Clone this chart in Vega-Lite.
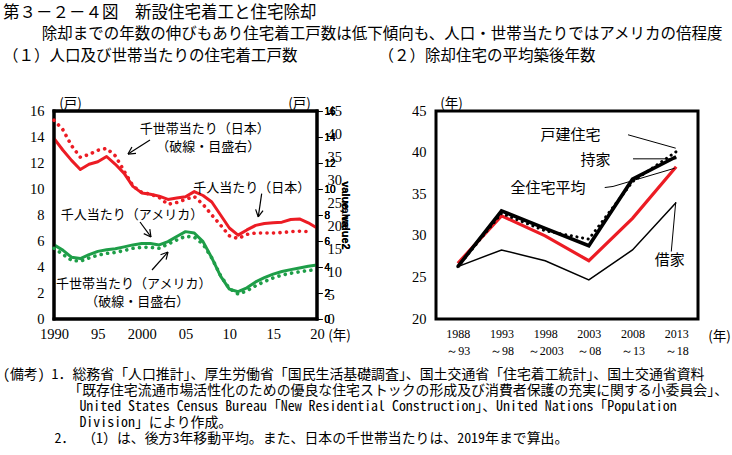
{
  "$schema": "https://vega.github.io/schema/vega-lite/v6.json",
  "background": "white",
  "padding": {"left": 3, "top": 4, "right": 2, "bottom": 2},
  "config": {
    "view": {"stroke": "black", "strokeWidth": 3},
    "axis": {"grid": false, "domain": false, "labelColor": "black", "titleColor": "black", "tickColor": "black"}
  },
  "title": {
    "text": "第３－２－４図　新設住宅着工と住宅除却",
    "subtitle": ["\u200b　　\u2002除却までの年数の伸びもあり住宅着工戸数は低下傾向も、人口・世帯当たりではアメリカの倍程度", "（１）人口及び世帯当たりの住宅着工戸数　　　　　 （２）除却住宅の平均築後年数"],
    "anchor": "start",
    "font": "Noto Sans CJK JP",
    "subtitleFont": "Noto Sans CJK JP",
    "fontSize": 16.5,
    "subtitleFontSize": 15.5,
    "subtitleLineHeight": 22,
    "subtitlePadding": 6,
    "fontWeight": "normal",
    "subtitleFontWeight": "normal",
    "color": "black",
    "subtitleColor": "black",
    "offset": 30
  },
  "datasets": {
    "housing": [
      {"year": 1990, "country": "日本", "basis": "人口", "value": 13.9},
      {"year": 1991, "country": "日本", "basis": "人口", "value": 13.0},
      {"year": 1992, "country": "日本", "basis": "人口", "value": 12.2},
      {"year": 1993, "country": "日本", "basis": "人口", "value": 11.5},
      {"year": 1994, "country": "日本", "basis": "人口", "value": 11.9},
      {"year": 1995, "country": "日本", "basis": "人口", "value": 12.1},
      {"year": 1996, "country": "日本", "basis": "人口", "value": 12.5},
      {"year": 1997, "country": "日本", "basis": "人口", "value": 11.9},
      {"year": 1998, "country": "日本", "basis": "人口", "value": 11.2},
      {"year": 1999, "country": "日本", "basis": "人口", "value": 10.2},
      {"year": 2000, "country": "日本", "basis": "人口", "value": 9.7},
      {"year": 2001, "country": "日本", "basis": "人口", "value": 9.6},
      {"year": 2002, "country": "日本", "basis": "人口", "value": 9.45},
      {"year": 2003, "country": "日本", "basis": "人口", "value": 9.2},
      {"year": 2004, "country": "日本", "basis": "人口", "value": 9.3},
      {"year": 2005, "country": "日本", "basis": "人口", "value": 9.4},
      {"year": 2006, "country": "日本", "basis": "人口", "value": 9.8},
      {"year": 2007, "country": "日本", "basis": "人口", "value": 9.5},
      {"year": 2008, "country": "日本", "basis": "人口", "value": 9.0},
      {"year": 2009, "country": "日本", "basis": "人口", "value": 8.0},
      {"year": 2010, "country": "日本", "basis": "人口", "value": 7.0},
      {"year": 2011, "country": "日本", "basis": "人口", "value": 6.45},
      {"year": 2012, "country": "日本", "basis": "人口", "value": 6.85},
      {"year": 2013, "country": "日本", "basis": "人口", "value": 7.2},
      {"year": 2014, "country": "日本", "basis": "人口", "value": 7.35},
      {"year": 2015, "country": "日本", "basis": "人口", "value": 7.4},
      {"year": 2016, "country": "日本", "basis": "人口", "value": 7.45},
      {"year": 2017, "country": "日本", "basis": "人口", "value": 7.65},
      {"year": 2018, "country": "日本", "basis": "人口", "value": 7.7},
      {"year": 2019, "country": "日本", "basis": "人口", "value": 7.4},
      {"year": 2020, "country": "日本", "basis": "人口", "value": 7.0},
      {"year": 1990, "country": "日本", "basis": "世帯", "value": 43.0},
      {"year": 1991, "country": "日本", "basis": "世帯", "value": 41.0},
      {"year": 1992, "country": "日本", "basis": "世帯", "value": 37.5},
      {"year": 1993, "country": "日本", "basis": "世帯", "value": 35.0},
      {"year": 1994, "country": "日本", "basis": "世帯", "value": 35.6},
      {"year": 1995, "country": "日本", "basis": "世帯", "value": 36.5},
      {"year": 1996, "country": "日本", "basis": "世帯", "value": 36.9},
      {"year": 1997, "country": "日本", "basis": "世帯", "value": 35.3},
      {"year": 1998, "country": "日本", "basis": "世帯", "value": 32.0},
      {"year": 1999, "country": "日本", "basis": "世帯", "value": 28.8},
      {"year": 2000, "country": "日本", "basis": "世帯", "value": 27.4},
      {"year": 2001, "country": "日本", "basis": "世帯", "value": 27.0},
      {"year": 2002, "country": "日本", "basis": "世帯", "value": 26.3},
      {"year": 2003, "country": "日本", "basis": "世帯", "value": 24.8},
      {"year": 2004, "country": "日本", "basis": "世帯", "value": 25.2},
      {"year": 2005, "country": "日本", "basis": "世帯", "value": 25.9},
      {"year": 2006, "country": "日本", "basis": "世帯", "value": 26.5},
      {"year": 2007, "country": "日本", "basis": "世帯", "value": 24.8},
      {"year": 2008, "country": "日本", "basis": "世帯", "value": 22.5},
      {"year": 2009, "country": "日本", "basis": "世帯", "value": 20.3},
      {"year": 2010, "country": "日本", "basis": "世帯", "value": 18.0},
      {"year": 2011, "country": "日本", "basis": "世帯", "value": 17.4},
      {"year": 2012, "country": "日本", "basis": "世帯", "value": 18.3},
      {"year": 2013, "country": "日本", "basis": "世帯", "value": 18.6},
      {"year": 2014, "country": "日本", "basis": "世帯", "value": 18.6},
      {"year": 2015, "country": "日本", "basis": "世帯", "value": 18.6},
      {"year": 2016, "country": "日本", "basis": "世帯", "value": 18.7},
      {"year": 2017, "country": "日本", "basis": "世帯", "value": 18.9},
      {"year": 2018, "country": "日本", "basis": "世帯", "value": 19.0},
      {"year": 2019, "country": "日本", "basis": "世帯", "value": 18.9},
      {"year": 1990, "country": "アメリカ", "basis": "人口", "value": 5.7},
      {"year": 1991, "country": "アメリカ", "basis": "人口", "value": 5.3},
      {"year": 1992, "country": "アメリカ", "basis": "人口", "value": 4.75},
      {"year": 1993, "country": "アメリカ", "basis": "人口", "value": 4.65},
      {"year": 1994, "country": "アメリカ", "basis": "人口", "value": 4.95},
      {"year": 1995, "country": "アメリカ", "basis": "人口", "value": 5.2},
      {"year": 1996, "country": "アメリカ", "basis": "人口", "value": 5.33},
      {"year": 1997, "country": "アメリカ", "basis": "人口", "value": 5.4},
      {"year": 1998, "country": "アメリカ", "basis": "人口", "value": 5.55},
      {"year": 1999, "country": "アメリカ", "basis": "人口", "value": 5.7},
      {"year": 2000, "country": "アメリカ", "basis": "人口", "value": 5.8},
      {"year": 2001, "country": "アメリカ", "basis": "人口", "value": 5.8},
      {"year": 2002, "country": "アメリカ", "basis": "人口", "value": 5.7},
      {"year": 2003, "country": "アメリカ", "basis": "人口", "value": 5.95},
      {"year": 2004, "country": "アメリカ", "basis": "人口", "value": 6.35},
      {"year": 2005, "country": "アメリカ", "basis": "人口", "value": 6.72},
      {"year": 2006, "country": "アメリカ", "basis": "人口", "value": 6.62},
      {"year": 2007, "country": "アメリカ", "basis": "人口", "value": 5.95},
      {"year": 2008, "country": "アメリカ", "basis": "人口", "value": 4.7},
      {"year": 2009, "country": "アメリカ", "basis": "人口", "value": 3.3},
      {"year": 2010, "country": "アメリカ", "basis": "人口", "value": 2.3},
      {"year": 2011, "country": "アメリカ", "basis": "人口", "value": 2.1},
      {"year": 2012, "country": "アメリカ", "basis": "人口", "value": 2.4},
      {"year": 2013, "country": "アメリカ", "basis": "人口", "value": 2.85},
      {"year": 2014, "country": "アメリカ", "basis": "人口", "value": 3.18},
      {"year": 2015, "country": "アメリカ", "basis": "人口", "value": 3.45},
      {"year": 2016, "country": "アメリカ", "basis": "人口", "value": 3.65},
      {"year": 2017, "country": "アメリカ", "basis": "人口", "value": 3.8},
      {"year": 2018, "country": "アメリカ", "basis": "人口", "value": 3.93},
      {"year": 2019, "country": "アメリカ", "basis": "人口", "value": 4.05},
      {"year": 2020, "country": "アメリカ", "basis": "人口", "value": 4.15},
      {"year": 1990, "country": "アメリカ", "basis": "世帯", "value": 15.3},
      {"year": 1991, "country": "アメリカ", "basis": "世帯", "value": 14.0},
      {"year": 1992, "country": "アメリカ", "basis": "世帯", "value": 12.7},
      {"year": 1993, "country": "アメリカ", "basis": "世帯", "value": 12.5},
      {"year": 1994, "country": "アメリカ", "basis": "世帯", "value": 13.2},
      {"year": 1995, "country": "アメリカ", "basis": "世帯", "value": 13.8},
      {"year": 1996, "country": "アメリカ", "basis": "世帯", "value": 14.2},
      {"year": 1997, "country": "アメリカ", "basis": "世帯", "value": 14.4},
      {"year": 1998, "country": "アメリカ", "basis": "世帯", "value": 14.8},
      {"year": 1999, "country": "アメリカ", "basis": "世帯", "value": 15.3},
      {"year": 2000, "country": "アメリカ", "basis": "世帯", "value": 15.5},
      {"year": 2001, "country": "アメリカ", "basis": "世帯", "value": 15.5},
      {"year": 2002, "country": "アメリカ", "basis": "世帯", "value": 15.3},
      {"year": 2003, "country": "アメリカ", "basis": "世帯", "value": 16.2},
      {"year": 2004, "country": "アメリカ", "basis": "世帯", "value": 17.1},
      {"year": 2005, "country": "アメリカ", "basis": "世帯", "value": 17.9},
      {"year": 2006, "country": "アメリカ", "basis": "世帯", "value": 17.7},
      {"year": 2007, "country": "アメリカ", "basis": "世帯", "value": 16.2},
      {"year": 2008, "country": "アメリカ", "basis": "世帯", "value": 13.2},
      {"year": 2009, "country": "アメリカ", "basis": "世帯", "value": 9.4},
      {"year": 2010, "country": "アメリカ", "basis": "世帯", "value": 6.6},
      {"year": 2011, "country": "アメリカ", "basis": "世帯", "value": 5.4},
      {"year": 2012, "country": "アメリカ", "basis": "世帯", "value": 6.1},
      {"year": 2013, "country": "アメリカ", "basis": "世帯", "value": 7.2},
      {"year": 2014, "country": "アメリカ", "basis": "世帯", "value": 8.1},
      {"year": 2015, "country": "アメリカ", "basis": "世帯", "value": 8.9},
      {"year": 2016, "country": "アメリカ", "basis": "世帯", "value": 9.5},
      {"year": 2017, "country": "アメリカ", "basis": "世帯", "value": 9.9},
      {"year": 2018, "country": "アメリカ", "basis": "世帯", "value": 10.2},
      {"year": 2019, "country": "アメリカ", "basis": "世帯", "value": 10.5},
      {"year": 2020, "country": "アメリカ", "basis": "世帯", "value": 10.7}
    ],
    "leftLabels": [
      {"year": 2007.2, "value": 14.62, "label": "千世帯当たり（日本）"},
      {"year": 2007.6, "value": 13.23, "label": "（破線・目盛右）"},
      {"year": 2012.55, "value": 10.08, "label": "千人当たり（日本）"},
      {"year": 1998.9, "value": 8.0, "label": "千人当たり（アメリカ）"},
      {"year": 1999.1, "value": 2.72, "label": "千世帯当たり（アメリカ）"},
      {"year": 1999.5, "value": 1.31, "label": "（破線・目盛右）"}
    ],
    "leftArrows": [
      {"year": 2000.95, "value": 13.77, "year2": 1998.44, "value2": 12.69},
      {"year": 1998.44, "value": 12.69, "year2": 1999.35, "value2": 12.74},
      {"year": 1998.44, "value": 12.69, "year2": 1998.89, "value2": 13.23},
      {"year": 1999.81, "value": 7.46, "year2": 2001.06, "value2": 6.31},
      {"year": 2001.06, "value": 6.31, "year2": 2000.93, "value2": 6.92},
      {"year": 2001.06, "value": 6.31, "year2": 2000.24, "value2": 6.57},
      {"year": 2001.18, "value": 3.77, "year2": 2003.0, "value2": 5.15},
      {"year": 2003.0, "value": 5.15, "year2": 2002.15, "value2": 4.94},
      {"year": 2003.0, "value": 5.15, "year2": 2002.79, "value2": 4.56},
      {"year": 2013.69, "value": 9.64, "year2": 2013.3, "value2": 7.85},
      {"year": 2013.3, "value": 7.85, "year2": 2013.84, "value2": 8.34},
      {"year": 2013.3, "value": 7.85, "year2": 2013.0, "value2": 8.43}
    ],
    "leftFrame": [
      {"year": 1990, "value": 0, "year2": 1990, "value2": 16},
      {"year": 2020, "value": 0, "year2": 2020, "value2": 16},
      {"year": 1990, "value": 0, "year2": 2020, "value2": 0},
      {"year": 1990, "value": 16, "year2": 2020, "value2": 16}
    ],
    "age": [
      {"start": 1988, "type": "全住宅平均", "value": 26.7},
      {"start": 1993, "type": "全住宅平均", "value": 32.4},
      {"start": 1998, "type": "全住宅平均", "value": 30.0},
      {"start": 2003, "type": "全住宅平均", "value": 27.0},
      {"start": 2008, "type": "全住宅平均", "value": 32.1},
      {"start": 2013, "type": "全住宅平均", "value": 38.3},
      {"start": 1988, "type": "持家", "value": 26.3},
      {"start": 1993, "type": "持家", "value": 33.0},
      {"start": 1998, "type": "持家", "value": 30.9},
      {"start": 2003, "type": "持家", "value": 28.8},
      {"start": 2008, "type": "持家", "value": 36.8},
      {"start": 2013, "type": "持家", "value": 39.5},
      {"start": 1988, "type": "戸建住宅", "value": 26.3},
      {"start": 1993, "type": "戸建住宅", "value": 32.7},
      {"start": 1998, "type": "戸建住宅", "value": 30.6},
      {"start": 2003, "type": "戸建住宅", "value": 29.6},
      {"start": 2008, "type": "戸建住宅", "value": 36.5},
      {"start": 2013, "type": "戸建住宅", "value": 40.1},
      {"start": 1988, "type": "借家", "value": 26.3},
      {"start": 1993, "type": "借家", "value": 28.3},
      {"start": 1998, "type": "借家", "value": 27.0},
      {"start": 2003, "type": "借家", "value": 24.7},
      {"start": 2008, "type": "借家", "value": 28.3},
      {"start": 2013, "type": "借家", "value": 34.0}
    ],
    "ageLeaders": [
      {"start": 2007.49, "value": 42.14, "start2": 2012.95, "value2": 40.53},
      {"start": 2008.06, "value": 39.25, "start2": 2013.02, "value2": 39.25},
      {"start": 2004.82, "value": 35.8, "start2": 2005.77, "value2": 35.93},
      {"start": 2005.77, "value": 35.93, "start2": 2012.83, "value2": 38.12},
      {"start": 2012.44, "value": 28.11, "start2": 2012.95, "value2": 34.04}
    ],
    "ageLabels": [
      {"start": 2000.9, "value": 42.14, "label": "戸建住宅"},
      {"start": 2003.76, "value": 39.13, "label": "持家"},
      {"start": 1998.32, "value": 35.72, "label": "全住宅平均"},
      {"start": 2012.26, "value": 27.12, "label": "借家"}
    ]
  },
  "vconcat": [
    {
      "title": {
        "text": [
          "(備考)\u20021．総務省「人口推計」、厚生労働省「国民生活基礎調査」、国土交通省「住宅着工統計」、国土交通省資料",
          "\u200b　　　　\u2002\u2009「既存住宅流通市場活性化のための優良な住宅ストックの形成及び消費者保護の充実に関する小委員会」、",
          "\u200b　　　　　\u2002United States Census Bureau「New Residential Construction」、United Nations「Population",
          "\u200b　　　　　\u2002Division」により作成。",
          "\u200b　　　\u2002\u20092．\u2002（1）は、後方3年移動平均。また、日本の千世帯当たりは、2019年まで算出。"
        ],
        "orient": "bottom",
        "anchor": "start",
        "font": "Noto Sans Mono CJK JP, Noto Sans CJK JP",
        "fontSize": 13.9,
        "lineHeight": 16.2,
        "fontWeight": "normal",
        "color": "black",
        "dx": -25,
        "offset": 10
      },
      "spacing": 58,
      "hconcat": [
        {
          "width": 263,
          "height": 208,
          "layer": [
            {
              "data": {"name": "housing"},
              "transform": [{"filter": "datum.basis == '人口'"}],
              "mark": {"type": "line", "strokeWidth": 3, "strokeJoin": "round"},
              "encoding": {
                "x": {
                  "field": "year", "type": "quantitative",
                  "scale": {"domain": [1990, 2020], "nice": false, "zero": false},
                  "axis": {
                    "values": [1990, 1995, 2000, 2005, 2010, 2015, 2020],
                    "labelExpr": "datum.value == 1990 || datum.value == 2000 ? toString(datum.value) : slice(toString(datum.value), 2)",
                    "labelFont": "Liberation Serif", "labelFontSize": 14.5, "labelPadding": 8,
                    "labelFlush": false, "labelOverlap": false, "ticks": false,
                    "title": "(年)", "titleX": 285, "titleY": 16, "titleAngle": 0,
                    "titleAlign": "center", "titleBaseline": "middle",
                    "titleFont": "Noto Sans CJK JP", "titleFontSize": 13.5, "titleFontWeight": "normal"
                  }
                },
                "y": {
                  "field": "value", "type": "quantitative",
                  "scale": {"domain": [0, 16], "nice": false},
                  "axis": {
                    "orient": "left",
                    "values": [0, 2, 4, 6, 8, 10, 12, 14, 16],
                    "labelFont": "Liberation Serif", "labelFontSize": 14.5,
                    "ticks": false, "labelPadding": 10,
                    "title": "(戸)", "titleX": 16, "titleY": -8, "titleAngle": 0,
                    "titleAlign": "center", "titleBaseline": "middle",
                    "titleFont": "Noto Sans CJK JP", "titleFontSize": 13.5, "titleFontWeight": "normal"
                  }
                },
                "color": {
                  "field": "country", "type": "nominal",
                  "scale": {"domain": ["日本", "アメリカ"], "range": ["#ec1c24", "#1e9e48"]},
                  "legend": null
                }
              }
            },
            {
              "data": {"name": "leftFrame"},
              "mark": {"type": "rule", "strokeWidth": 3, "color": "black", "strokeCap": "square"},
              "encoding": {
                "x": {"field": "year", "type": "quantitative", "scale": {"domain": [1990, 2020], "nice": false, "zero": false}},
                "y": {"field": "value", "type": "quantitative", "scale": {"domain": [0, 16], "nice": false}},
                "x2": {"field": "year2"},
                "y2": {"field": "value2"}
              }
            },
            {
              "data": {"name": "leftArrows"},
              "mark": {"type": "rule", "strokeWidth": 1.2, "color": "black"},
              "encoding": {
                "x": {"field": "year", "type": "quantitative", "scale": {"domain": [1990, 2020], "nice": false, "zero": false}},
                "y": {"field": "value", "type": "quantitative", "scale": {"domain": [0, 16], "nice": false}},
                "x2": {"field": "year2"},
                "y2": {"field": "value2"}
              }
            },
            {
              "data": {"name": "leftLabels"},
              "mark": {"type": "text", "font": "Noto Sans CJK JP", "fontSize": 13, "align": "center", "baseline": "middle", "color": "black"},
              "encoding": {
                "x": {"field": "year", "type": "quantitative", "scale": {"domain": [1990, 2020], "nice": false, "zero": false}},
                "y": {"field": "value", "type": "quantitative", "scale": {"domain": [0, 16], "nice": false}},
                "text": {"field": "label"}
              }
            },
            {
              "resolve": {"scale": {"y": "independent"}},
              "layer": [
                {
                  "data": {"name": "housing"},
                  "transform": [{"filter": "datum.basis == '世帯'"}],
                  "mark": {"type": "line", "strokeWidth": 3.6, "strokeDash": [0.1, 6.4], "strokeCap": "round"},
                  "encoding": {
                    "x": {"field": "year", "type": "quantitative", "scale": {"domain": [1990, 2020], "nice": false, "zero": false}},
                    "y": {
                      "field": "value", "type": "quantitative",
                      "scale": {"domain": [0, 45], "nice": false},
                      "axis": {
                        "orient": "right",
                        "values": [0, 5, 10, 15, 20, 25, 30, 35, 40, 45],
                        "labelFont": "Liberation Serif", "labelFontSize": 14.5,
                        "ticks": false, "labelPadding": 10,
                        "title": "(戸)", "titleX": -18, "titleY": -8, "titleAngle": 0,
                        "titleAlign": "center", "titleBaseline": "middle",
                        "titleFont": "Noto Sans CJK JP", "titleFontSize": 13.5, "titleFontWeight": "normal"
                      }
                    },
                    "color": {
                      "field": "country", "type": "nominal",
                      "scale": {"domain": ["日本", "アメリカ"], "range": ["#ec1c24", "#1e9e48"]},
                      "legend": null
                    }
                  }
                }
              ]
            }
          ]
        },
        {
          "width": 262,
          "height": 208,
          "layer": [
            {
              "data": {"name": "age"},
              "transform": [{"filter": "datum.type == '借家'"}],
              "mark": {"type": "line", "color": "black", "strokeWidth": 1.5},
              "encoding": {
                "x": {
                  "field": "start", "type": "quantitative",
                  "scale": {"domain": [1985.5, 2015.5], "nice": false, "zero": false},
                  "axis": {
                    "values": [1988, 1993, 1998, 2003, 2008, 2013],
                    "labelExpr": "[toString(datum.value), datum.value == 1998 ? '～2003' : '～' + slice(toString(datum.value + 5), 2)]",
                    "labelFont": "Liberation Serif", "labelFontSize": 12, "labelLineHeight": 17,
                    "labelPadding": 9, "labelFlush": false, "labelOverlap": false, "ticks": false,
                    "title": "(年)", "titleX": 283, "titleY": 17, "titleAngle": 0,
                    "titleAlign": "center", "titleBaseline": "middle",
                    "titleFont": "Noto Sans CJK JP", "titleFontSize": 13.5, "titleFontWeight": "normal"
                  }
                },
                "y": {
                  "field": "value", "type": "quantitative",
                  "scale": {"domain": [20, 45], "nice": false, "zero": false},
                  "axis": {
                    "values": [20, 25, 30, 35, 40, 45],
                    "labelFont": "Liberation Serif", "labelFontSize": 14.5,
                    "ticks": false, "labelPadding": 10,
                    "title": "(年)", "titleX": 15, "titleY": -8, "titleAngle": 0,
                    "titleAlign": "center", "titleBaseline": "middle",
                    "titleFont": "Noto Sans CJK JP", "titleFontSize": 13.5, "titleFontWeight": "normal"
                  }
                }
              }
            },
            {
              "data": {"name": "age"},
              "transform": [{"filter": "datum.type == '全住宅平均'"}],
              "mark": {"type": "line", "color": "#ec1c24", "strokeWidth": 3.2},
              "encoding": {
                "x": {"field": "start", "type": "quantitative", "scale": {"domain": [1985.5, 2015.5], "nice": false, "zero": false}},
                "y": {"field": "value", "type": "quantitative", "scale": {"domain": [20, 45], "nice": false, "zero": false}}
              }
            },
            {
              "data": {"name": "age"},
              "transform": [{"filter": "datum.type == '持家'"}],
              "mark": {"type": "line", "color": "black", "strokeWidth": 3.6},
              "encoding": {
                "x": {"field": "start", "type": "quantitative", "scale": {"domain": [1985.5, 2015.5], "nice": false, "zero": false}},
                "y": {"field": "value", "type": "quantitative", "scale": {"domain": [20, 45], "nice": false, "zero": false}}
              }
            },
            {
              "data": {"name": "age"},
              "transform": [{"filter": "datum.type == '戸建住宅'"}],
              "mark": {"type": "line", "color": "black", "strokeWidth": 3, "strokeDash": [0.1, 5.6], "strokeCap": "round"},
              "encoding": {
                "x": {"field": "start", "type": "quantitative", "scale": {"domain": [1985.5, 2015.5], "nice": false, "zero": false}},
                "y": {"field": "value", "type": "quantitative", "scale": {"domain": [20, 45], "nice": false, "zero": false}}
              }
            },
            {
              "data": {"name": "ageLeaders"},
              "mark": {"type": "rule", "color": "black", "strokeWidth": 1},
              "encoding": {
                "x": {"field": "start", "type": "quantitative", "scale": {"domain": [1985.5, 2015.5], "nice": false, "zero": false}},
                "y": {"field": "value", "type": "quantitative", "scale": {"domain": [20, 45], "nice": false, "zero": false}},
                "x2": {"field": "start2"},
                "y2": {"field": "value2"}
              }
            },
            {
              "data": {"name": "ageLabels"},
              "mark": {"type": "text", "font": "Noto Sans CJK JP", "fontSize": 15, "align": "center", "baseline": "middle", "color": "black"},
              "encoding": {
                "x": {"field": "start", "type": "quantitative", "scale": {"domain": [1985.5, 2015.5], "nice": false, "zero": false}},
                "y": {"field": "value", "type": "quantitative", "scale": {"domain": [20, 45], "nice": false, "zero": false}},
                "text": {"field": "label"}
              }
            }
          ]
        }
      ]
    }
  ]
}
